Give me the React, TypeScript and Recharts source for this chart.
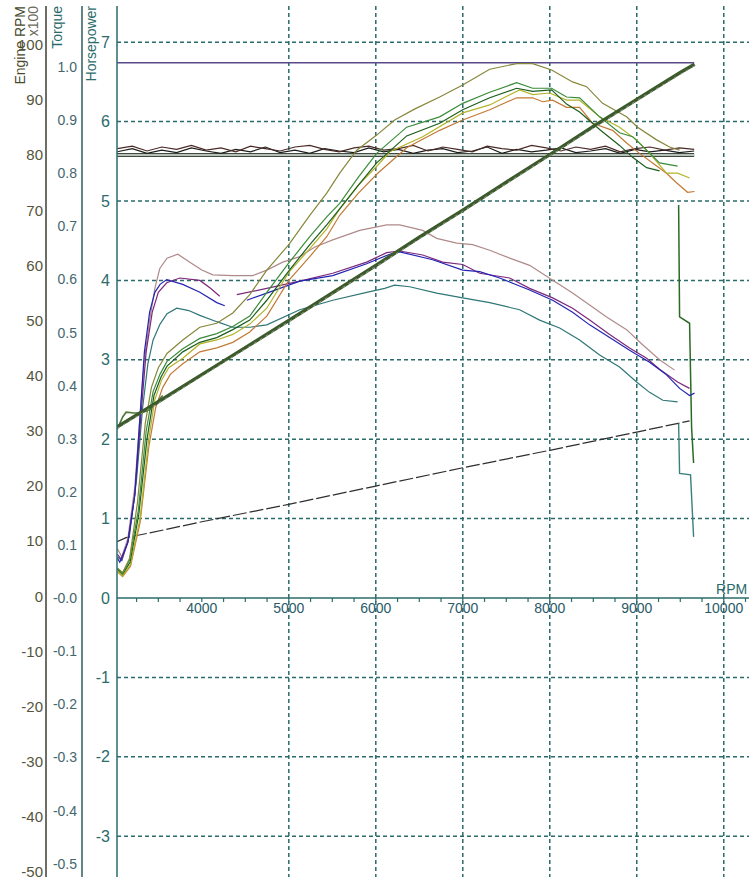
import { LineChart, Line, XAxis, YAxis, ReferenceLine, ReferenceDot, CartesianGrid } from 'recharts';

type Pt = [number, number | null];

// axis ticks
const hpTicks = [-3, -2, -1, 0, 1, 2, 3, 4, 5, 6, 7];
const torqueTicks = [-0.5, -0.4, -0.3, -0.2, -0.1, 0, 0.1, 0.2, 0.3, 0.4, 0.5, 0.6, 0.7, 0.8, 0.9, 1.0];
const rpmTicks = [-50, -40, -30, -20, -10, 0, 10, 20, 30, 40, 50, 60, 70, 80, 90, 100];
const xLabels = [4000, 5000, 6000, 7000, 8000, 9000, 10000];
const xGrid = [5000, 6000, 7000, 8000, 9000, 10000];
const hpGrid = [-3, -2, -1, 1, 2, 3, 4, 5, 6, 7];
const xMinorTicks = [
  3250, 3500, 3750, 4000, 4250, 4500, 4750, 5000, 5250, 5500, 5750, 6000, 6250, 6500, 6750,
  7000, 7250, 7500, 7750, 8000, 8250, 8500, 8750, 9000, 9250, 9500, 9750, 10000, 10250,
];

// flat reference lines
const purpleFlat: Pt[] = [[3025, 6.74], [9660, 6.74]];
const flatLine: Pt[] = [[3025, 5.58], [9660, 5.58]];

// engine rpm (x100)
const engineRpm: Pt[] = [
  [3025, 30.7], [3500, 35.3], [4000, 40.2], [4500, 45.1], [5000, 50.0], [5500, 55.0], [6000, 60.0],
  [6500, 65.1], [7000, 70.0], [7500, 75.1], [8000, 80.1], [8500, 85.2], [9000, 90.1], [9500, 95.0], [9664, 96.5],
];
const engineRpm2: Pt[] = [
  [3025, 30.4], [4000, 39.9], [5000, 49.8], [6000, 59.8], [7000, 69.8], [8000, 79.9], [9000, 89.9], [9664, 96.2],
];
const rpmBump: Pt[] = [[3025, 2.12], [3090, 2.28], [3130, 2.34], [3220, 2.33], [3300, 2.33], [3402, 2.37], [3550, 2.55]];

// noisy trace near 5.6 hp
const noiseRpm = [
  3030, 3200, 3370, 3540, 3710, 3880, 4050, 4220, 4390, 4560, 4730, 4900, 5070, 5240, 5410, 5580, 5750, 5920, 6090, 6260,
  6430, 6600, 6770, 6940, 7110, 7280, 7450, 7620, 7790, 7960, 8130, 8300, 8470, 8640, 8810, 8980, 9150, 9320, 9490, 9660,
];
const noiseA = [
  5.66, 5.69, 5.63, 5.68, 5.65, 5.70, 5.64, 5.67, 5.62, 5.69, 5.66, 5.63, 5.68, 5.70, 5.65, 5.62, 5.67, 5.69, 5.64, 5.66,
  5.70, 5.63, 5.68, 5.65, 5.62, 5.69, 5.66, 5.64, 5.70, 5.67, 5.63, 5.68, 5.65, 5.69, 5.62, 5.66, 5.68, 5.64, 5.67, 5.65,
];
const noiseB = [
  5.62, 5.66, 5.60, 5.64, 5.61, 5.67, 5.63, 5.60, 5.65, 5.62, 5.68, 5.61, 5.64, 5.60, 5.66, 5.63, 5.61, 5.67, 5.62, 5.65,
  5.60, 5.64, 5.66, 5.61, 5.63, 5.68, 5.60, 5.65, 5.62, 5.64, 5.67, 5.61, 5.63, 5.66, 5.60, 5.65, 5.62, 5.64, 5.61, 5.63,
];

// ratio line and end-of-run drops
const blackDiag: Pt[] = [
  [3025, 0.71], [3130, 0.76], [3402, 0.82], [4000, 0.96], [5000, 1.18], [6000, 1.41], [7000, 1.64], [8000, 1.86], [9000, 2.09], [9607, 2.23],
];
const greenDrop: Pt[] = [[9481, 4.95], [9492, 3.54], [9607, 3.46], [9630, 2.15], [9653, 1.70]];
const tealDrop: Pt[] = [[9481, 2.20], [9492, 1.57], [9618, 1.55], [9653, 0.77]];

// torque-type curves
const pinkCurve: Pt[] = [
  [3030, 0.62], [3080, 0.52], [3150, 0.75], [3230, 1.4], [3290, 2.3], [3340, 3.0], [3400, 3.5], [3460, 3.9], [3517, 4.15],
  [3600, 4.28], [3724, 4.33], [3862, 4.23], [4000, 4.13], [4126, 4.07], [4356, 4.06], [4586, 4.06], [4747, 4.13], [4930, 4.23],
  [5126, 4.3], [5300, 4.42], [5505, 4.51], [5815, 4.63], [6125, 4.7], [6275, 4.7], [6539, 4.63], [6700, 4.53], [6930, 4.47],
  [7113, 4.45], [7309, 4.38], [7539, 4.28], [7768, 4.19], [8021, 4.01], [8262, 3.84], [8458, 3.69], [8653, 3.54], [8883, 3.38],
  [9067, 3.19], [9262, 3.0], [9434, 2.87],
];
const purpleCurve: Pt[] = [
  [3030, 0.55], [3080, 0.48], [3150, 0.7], [3230, 1.3], [3300, 2.3], [3360, 3.1], [3430, 3.6], [3500, 3.85], [3597, 3.97],
  [3747, 4.03], [3977, 4.0], [4100, 3.9], [4206, 3.8], [4300, null], [4402, 3.82], [4747, 3.9], [5126, 3.99], [5505, 4.09],
  [5895, 4.23], [6125, 4.35], [6275, 4.37], [6539, 4.32], [6769, 4.23], [6999, 4.2], [7194, 4.09], [7539, 4.03], [7768, 3.9],
  [8033, 3.78], [8262, 3.65], [8458, 3.5], [8688, 3.32], [8917, 3.15], [9113, 3.02], [9262, 2.88], [9469, 2.72], [9607, 2.64],
];
const blueCurve: Pt[] = [
  [3030, 0.5], [3057, 0.45], [3150, 0.7], [3230, 1.3], [3290, 2.3], [3340, 3.1], [3400, 3.6], [3460, 3.85], [3520, 3.95],
  [3597, 4.01], [3781, 3.95], [3977, 3.85], [4172, 3.72], [4264, 3.68], [4400, null], [4517, 3.75], [4747, 3.84], [5126, 3.99],
  [5505, 4.06], [5895, 4.21], [6160, 4.33], [6275, 4.36], [6654, 4.26], [6999, 4.13], [7194, 4.11], [7424, 4.03], [7768, 3.88],
  [8033, 3.75], [8262, 3.6], [8458, 3.44], [8688, 3.28], [8917, 3.12], [9147, 2.97], [9342, 2.81], [9492, 2.64], [9607, 2.55], [9664, 2.58],
];
const tealCurve: Pt[] = [
  [3030, 0.52], [3080, 0.47], [3170, 0.8], [3250, 1.5], [3320, 2.4], [3380, 2.95], [3440, 3.25], [3520, 3.45], [3600, 3.58],
  [3712, 3.65], [3850, 3.62], [3977, 3.56], [4172, 3.48], [4356, 3.41], [4551, 3.41], [4747, 3.44], [5126, 3.63], [5505, 3.75],
  [5895, 3.85], [6102, 3.9], [6217, 3.94], [6390, 3.92], [6700, 3.84], [6999, 3.78], [7309, 3.72], [7653, 3.63], [7883, 3.5],
  [8113, 3.4], [8343, 3.25], [8573, 3.06], [8802, 2.91], [8998, 2.72], [9147, 2.59], [9300, 2.49], [9469, 2.47],
];

// horsepower curves
const oliveCurve: Pt[] = [
  [3030, 0.38], [3090, 0.32], [3170, 0.5], [3260, 1.2], [3350, 2.2], [3420, 2.65], [3500, 2.9], [3600, 3.08], [3781, 3.25],
  [3977, 3.41], [4172, 3.46], [4356, 3.59], [4551, 3.82], [4747, 4.13], [5000, 4.45], [5241, 4.82], [5436, 5.1], [5585, 5.35],
  [5781, 5.64], [6010, 5.83], [6217, 6.02], [6450, 6.16], [6734, 6.31], [6999, 6.46], [7309, 6.66], [7619, 6.73], [7803, 6.73],
  [8021, 6.65], [8262, 6.5], [8423, 6.44], [8607, 6.23], [8883, 6.06], [9009, 5.93], [9228, 5.77], [9377, 5.68], [9492, 5.64],
];
const greenCurve: Pt[] = [
  [3030, 0.37], [3090, 0.31], [3170, 0.48], [3270, 1.1], [3360, 2.1], [3440, 2.6], [3520, 2.82], [3600, 2.98], [3781, 3.14],
  [3977, 3.27], [4172, 3.33], [4356, 3.42], [4551, 3.55], [4747, 3.85], [5000, 4.22], [5241, 4.55], [5436, 4.8], [5585, 4.97],
  [5800, 5.3], [6010, 5.6], [6355, 5.93], [6734, 6.06], [6999, 6.23], [7309, 6.37], [7619, 6.49], [7803, 6.42], [8021, 6.42],
  [8193, 6.31], [8343, 6.3], [8573, 6.06], [8802, 5.86], [8952, 5.81], [9113, 5.64], [9262, 5.48], [9469, 5.44],
];
const darkGreenCurve: Pt[] = [
  [3030, 0.36], [3090, 0.3], [3175, 0.45], [3275, 1.05], [3370, 2.0], [3450, 2.55], [3530, 2.78], [3600, 2.92], [3781, 3.1],
  [3977, 3.22], [4172, 3.28], [4356, 3.38], [4551, 3.5], [4747, 3.75], [5000, 4.12], [5241, 4.45], [5436, 4.7], [5585, 4.9],
  [5800, 5.2], [6010, 5.48], [6355, 5.82], [6734, 5.98], [6999, 6.15], [7309, 6.3], [7619, 6.42], [7803, 6.38], [8021, 6.4],
  [8193, 6.22], [8343, 6.12], [8573, 5.9], [8802, 5.7], [8952, 5.55], [9113, 5.42], [9262, 5.38],
];
const yellowCurve: Pt[] = [
  [3030, 0.34], [3090, 0.28], [3180, 0.42], [3290, 1.0], [3390, 2.0], [3460, 2.5], [3540, 2.75], [3620, 2.9], [3781, 3.02],
  [3977, 3.2], [4172, 3.25], [4356, 3.32], [4551, 3.45], [4747, 3.65], [5000, 4.1], [5241, 4.4], [5436, 4.65], [5585, 4.9],
  [5800, 5.2], [6022, 5.45], [6160, 5.62], [6539, 5.81], [6999, 6.11], [7309, 6.21], [7653, 6.4], [7803, 6.34], [7998, 6.36],
  [8193, 6.27], [8343, 6.27], [8573, 6.06], [8802, 5.93], [8998, 5.77], [9147, 5.6], [9342, 5.35], [9469, 5.35], [9607, 5.29],
];
const orangeCurve: Pt[] = [
  [3030, 0.33], [3090, 0.27], [3180, 0.4], [3290, 0.95], [3390, 1.9], [3470, 2.4], [3550, 2.65], [3640, 2.82], [3781, 2.95],
  [3977, 3.1], [4172, 3.15], [4356, 3.22], [4551, 3.35], [4747, 3.55], [5000, 4.0], [5241, 4.3], [5436, 4.55], [5585, 4.82],
  [5800, 5.1], [6022, 5.35], [6355, 5.67], [6734, 5.89], [6999, 6.02], [7309, 6.15], [7619, 6.3], [7803, 6.3], [7918, 6.25],
  [8033, 6.27], [8193, 6.18], [8343, 6.18], [8492, 5.98], [8722, 5.89], [8883, 5.73], [9032, 5.6], [9182, 5.48], [9342, 5.35],
  [9457, 5.23], [9584, 5.11], [9664, 5.12],
];

const toRows = (pts: Pt[]) => pts.map(([rpm, v]) => ({ rpm, v }));
const zipRows = (xs: number[], vs: number[]) => xs.map((rpm, i) => ({ rpm, v: vs[i] }));

const FONT = '"Liberation Sans", Arial, sans-serif';
const TEAL = '#2b6b6b';
// axis ids sort alphabetically: a = nearest the plot
const HP = 'a_hp';
const TQ = 'b_tq';
const RPM = 'c_rpm';

const title = (text: string, dx: number, color: string) => (props: any) => {
  const x = (props.viewBox?.x ?? 0) + dx;
  const y = 6;
  return (
    <text x={x} y={y} transform={`rotate(-90 ${x} ${y})`} textAnchor="end" fill={color} fontSize={14} fontFamily={FONT}>
      {text}
    </text>
  );
};

const rpmTitle = (props: any) => (
  <g>
    {title('Engine RPM', 25, '#4a4a2e')(props)}
    {title('x100', 38, '#6a6a58')(props)}
  </g>
);

const series: { pts: Pt[]; color: string; width?: number; dash?: string }[] = [
  { pts: purpleFlat, color: '#5a4a8c', width: 1.5 },
  { pts: blackDiag, color: '#2e2e2e', width: 1.2, dash: '14 3' },
  { pts: tealDrop, color: '#3a7f7f', width: 1.4 },
  { pts: greenDrop, color: '#2a6a24', width: 1.5 },
  { pts: tealCurve, color: '#2f7676' },
  { pts: pinkCurve, color: '#b08a8a' },
  { pts: purpleCurve, color: '#7c287c' },
  { pts: blueCurve, color: '#2424b4' },
  { pts: orangeCurve, color: '#c27a36' },
  { pts: yellowCurve, color: '#b4b42a' },
  { pts: darkGreenCurve, color: '#1d5e1d' },
  { pts: greenCurve, color: '#3a8c3a' },
  { pts: oliveCurve, color: '#87873a' },
  { pts: rpmBump, color: '#4d7a36', width: 1.6 },
];

export default function App() {
  return (
    <div style={{ position: 'absolute', left: 0, top: 0, background: '#fff' }}>
      <LineChart width={749} height={881} margin={{ top: 6, right: 0, bottom: 4, left: 0 }}>
        <XAxis type="number" dataKey="rpm" domain={[3025, 10290]} allowDataOverflow hide height={0} />
        <YAxis
          yAxisId={HP}
          type="number"
          domain={[-3.514, 7.456]}
          allowDataOverflow
          ticks={hpTicks}
          interval={0}
          width={35}
          axisLine={{ stroke: TEAL, strokeWidth: 1.5 }}
          tickLine={false}
          tickSize={5}
          tickMargin={2}
          tick={{ fill: TEAL, fontSize: 16, fontFamily: FONT }}
          label={title('Horsepower', 14, TEAL)}
        />
        <YAxis
          yAxisId={TQ}
          type="number"
          domain={[-0.525, 1.115]}
          allowDataOverflow
          ticks={torqueTicks}
          interval={0}
          width={36}
          axisLine={{ stroke: '#2f5c5c', strokeWidth: 1.5 }}
          tickLine={false}
          tickSize={3}
          tickMargin={2}
          tickFormatter={(v: number) => (v === 0 ? '-0.0' : v.toFixed(1))}
          tick={{ fill: '#45666e', fontSize: 14, fontFamily: FONT }}
          label={title('Torque', 16, TEAL)}
        />
        <YAxis
          yAxisId={RPM}
          type="number"
          domain={[-50.9, 107.05]}
          allowDataOverflow
          ticks={rpmTicks}
          interval={0}
          width={46}
          axisLine={{ stroke: '#3e3e30', strokeWidth: 1.5 }}
          tickLine={false}
          tickSize={1}
          tickMargin={2}
          tick={{ fill: '#55553c', fontSize: 15, fontFamily: FONT }}
          label={rpmTitle}
        />
        <CartesianGrid
          yAxisId={HP}
          horizontalValues={hpGrid}
          verticalValues={xGrid}
          stroke={TEAL}
          strokeWidth={1.5}
          strokeDasharray="4 3"
        />
        <ReferenceLine yAxisId={HP} y={0} stroke={TEAL} strokeWidth={1.5} />
        {xMinorTicks.map((t) => (
          <ReferenceLine
            key={`mt${t}`}
            yAxisId={HP}
            segment={[{ x: t, y: 0 }, { x: t, y: -0.05 }]}
            stroke={TEAL}
            strokeWidth={1.2}
          />
        ))}
        {xLabels.map((t) => (
          <ReferenceDot
            key={`xl${t}`}
            yAxisId={HP}
            x={t}
            y={0}
            r={0}
            stroke="none"
            fill="none"
            label={{ value: String(t), position: 'bottom', offset: 5, fill: '#2a5a68', fontSize: 14, fontFamily: FONT }}
          />
        ))}
        <ReferenceDot
          yAxisId={HP}
          x={10090}
          y={0}
          r={0}
          stroke="none"
          fill="none"
          label={{ value: 'RPM', position: 'top', offset: 4, fill: TEAL, fontSize: 14, fontFamily: FONT }}
        />

        <Line yAxisId={HP} data={toRows(flatLine)} dataKey="v" stroke="#3f4a42" strokeWidth={4}
          dot={false} activeDot={false} isAnimationActive={false} />
        <Line yAxisId={HP} data={toRows(flatLine)} dataKey="v" stroke="#dfe8df" strokeWidth={1.4}
          dot={false} activeDot={false} isAnimationActive={false} />
        <Line yAxisId={HP} data={zipRows(noiseRpm, noiseB)} dataKey="v" stroke="#1e1e1e" strokeWidth={1.2}
          dot={false} activeDot={false} isAnimationActive={false} />
        <Line yAxisId={HP} data={zipRows(noiseRpm, noiseA)} dataKey="v" stroke="#4a2a26" strokeWidth={1.2}
          dot={false} activeDot={false} isAnimationActive={false} />

        {series.map((s, i) => (
          <Line
            key={`s${i}`}
            yAxisId={HP}
            data={toRows(s.pts)}
            dataKey="v"
            type="linear"
            stroke={s.color}
            strokeWidth={s.width ?? 1.2}
            strokeDasharray={s.dash}
            dot={false}
            activeDot={false}
            connectNulls={false}
            isAnimationActive={false}
          />
        ))}

        <Line yAxisId={RPM} data={toRows(engineRpm)} dataKey="v" stroke="#3c5a2c" strokeWidth={3.5}
          dot={false} activeDot={false} isAnimationActive={false} />
        <Line yAxisId={RPM} data={toRows(engineRpm2)} dataKey="v" stroke="#8f9c86" strokeWidth={1}
          strokeDasharray="3 4" dot={false} activeDot={false} isAnimationActive={false} />
      </LineChart>
    </div>
  );
}
